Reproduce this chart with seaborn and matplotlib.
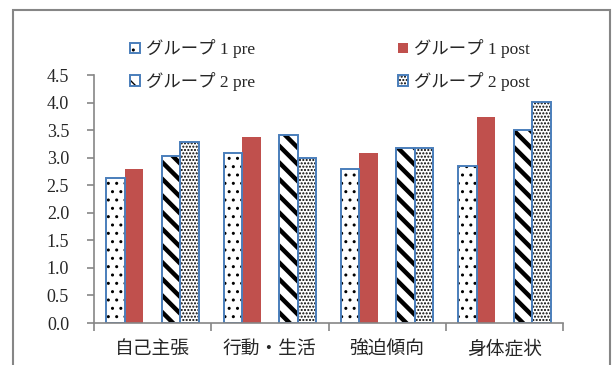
import matplotlib
matplotlib.use("Agg")
import matplotlib.pyplot as plt
from matplotlib.patches import Rectangle, Patch
from matplotlib.legend_handler import HandlerTuple
import pandas as pd
import seaborn as sns

# Mean scores per subscale
categories = ["自己主張", "行動・生活", "強迫傾向", "身体症状"]
series = ["グループ 1 pre", "グループ 1 post", "グループ 2 pre", "グループ 2 post"]
g1_pre = [2.63, 3.09, 2.79, 2.84]
g1_post = [2.79, 3.37, 3.08, 3.74]
g2_pre = [3.03, 3.41, 3.17, 3.50]
g2_post = [3.28, 2.99, 3.18, 4.01]
yticks = [0.0, 0.5, 1.0, 1.5, 2.0, 2.5, 3.0, 3.5, 4.0, 4.5]

BLUE = "#4A7EBB"
RED = "#C0504D"
GREY = "#868686"
TEXT = "#262626"
SPACER = " "

sns.set_theme(style="white")
plt.rcParams["font.family"] = ["Liberation Serif", "Noto Sans CJK JP"]

rows = []
for name, vals in zip(series, [g1_pre, g1_post, g2_pre, g2_post]):
    for cat, v in zip(categories, vals):
        rows.append({"cat": cat, "series": name, "value": v})
df = pd.DataFrame(rows)
hue_order = [series[0], series[1], SPACER, series[2], series[3]]

fig = plt.figure(figsize=(6.12, 3.65), dpi=100)
ax = fig.add_axes([94 / 612, 1 - 323 / 365, (563 - 94) / 612, (323 - 75) / 365])

palette = {series[0]: "white", series[1]: RED, SPACER: "white",
           series[2]: "white", series[3]: "white"}
sns.barplot(data=df, x="cat", y="value", hue="series", hue_order=hue_order,
            order=categories, palette=palette, width=0.79, errorbar=None,
            saturation=1, legend=False, ax=ax)

hatches = {series[0]: "..", series[2]: "\\\\", series[3]: "....."}
hatch_lw = {series[0]: 1.0, series[2]: 3.2, series[3]: 1.0}


def set_hlw(p, w):
    if hasattr(p, "set_hatch_linewidth"):
        p.set_hatch_linewidth(w)
    else:
        p._hatch_linewidth = w


# One non-empty container per series, in hue order (spacer has no bars)
filled = [c for c in ax.containers if len(c.patches) > 0]
for container, name in zip(filled, series):
    for p in container.patches:
        if name == series[1]:
            p.set_facecolor(RED)
            p.set_edgecolor("none")
            p.set_linewidth(0)
            continue
        p.set_facecolor("white")
        p.set_edgecolor("black")
        p.set_linewidth(0)
        p.set_hatch(hatches[name])
        set_hlw(p, hatch_lw[name])
        ax.add_patch(Rectangle(p.get_xy(), p.get_width(), p.get_height(),
                               fill=False, edgecolor=BLUE, linewidth=1.4,
                               zorder=p.get_zorder() + 0.1))

ax.set_ylim(0, 4.5)
ax.set_xlim(-0.5, len(categories) - 0.5)
ax.set_yticks(yticks)
ax.set_yticklabels([f"{t:.1f}" for t in yticks])
ax.set_xlabel("")
ax.set_ylabel("")

# Category labels centred, tick marks on the boundaries between categories
ax.set_xticks(range(len(categories)))
ax.set_xticklabels(categories, fontsize=13.5,
                   family=["Noto Sans CJK JP"], color=TEXT)
ax.tick_params(axis="x", length=0, pad=11)
ax.set_xticks([i - 0.5 for i in range(len(categories) + 1)], minor=True)
ax.tick_params(axis="x", which="minor", length=6, width=1.2, color=GREY,
               direction="out", bottom=True)
ax.tick_params(axis="y", length=5, width=1.2, color=GREY, direction="out",
               left=True, labelsize=13, pad=13, labelcolor=TEXT)

for side in ["top", "right"]:
    ax.spines[side].set_visible(False)
for side in ["left", "bottom"]:
    ax.spines[side].set_color(GREY)
    ax.spines[side].set_linewidth(1.2)
ax.grid(False)


# Legend handles: hatch layer plus blue outline overlaid
def handle(name):
    if name == series[1]:
        return Patch(facecolor=RED, edgecolor="none")
    fill = Patch(facecolor="white", edgecolor="black", linewidth=0,
                 hatch=hatches[name])
    set_hlw(fill, hatch_lw[name])
    outline = Patch(facecolor="none", edgecolor=BLUE, linewidth=1.4)
    return (fill, outline)


order = [series[0], series[2], series[1], series[3]]
leg = fig.legend([handle(n) for n in order], order, ncol=2,
                 loc="center left", bbox_to_anchor=(130 / 612, 1 - 65 / 365),
                 frameon=False, fontsize=12.5, handlelength=0.55,
                 handleheight=0.55, handletextpad=0.4, columnspacing=8.2,
                 labelspacing=0.78, borderpad=0, borderaxespad=0,
                 handler_map={tuple: HandlerTuple(ndivide=1, pad=0)})
for t in leg.get_texts():
    t.set_color(TEXT)

# Outer chart frame
fig.patches.append(Rectangle((13 / 612, -0.1), (610 - 13) / 612, 1.1 - 10 / 365,
                             transform=fig.transFigure, fill=False,
                             edgecolor=GREY, linewidth=1.5))

fig.savefig("out.png", dpi=100)
